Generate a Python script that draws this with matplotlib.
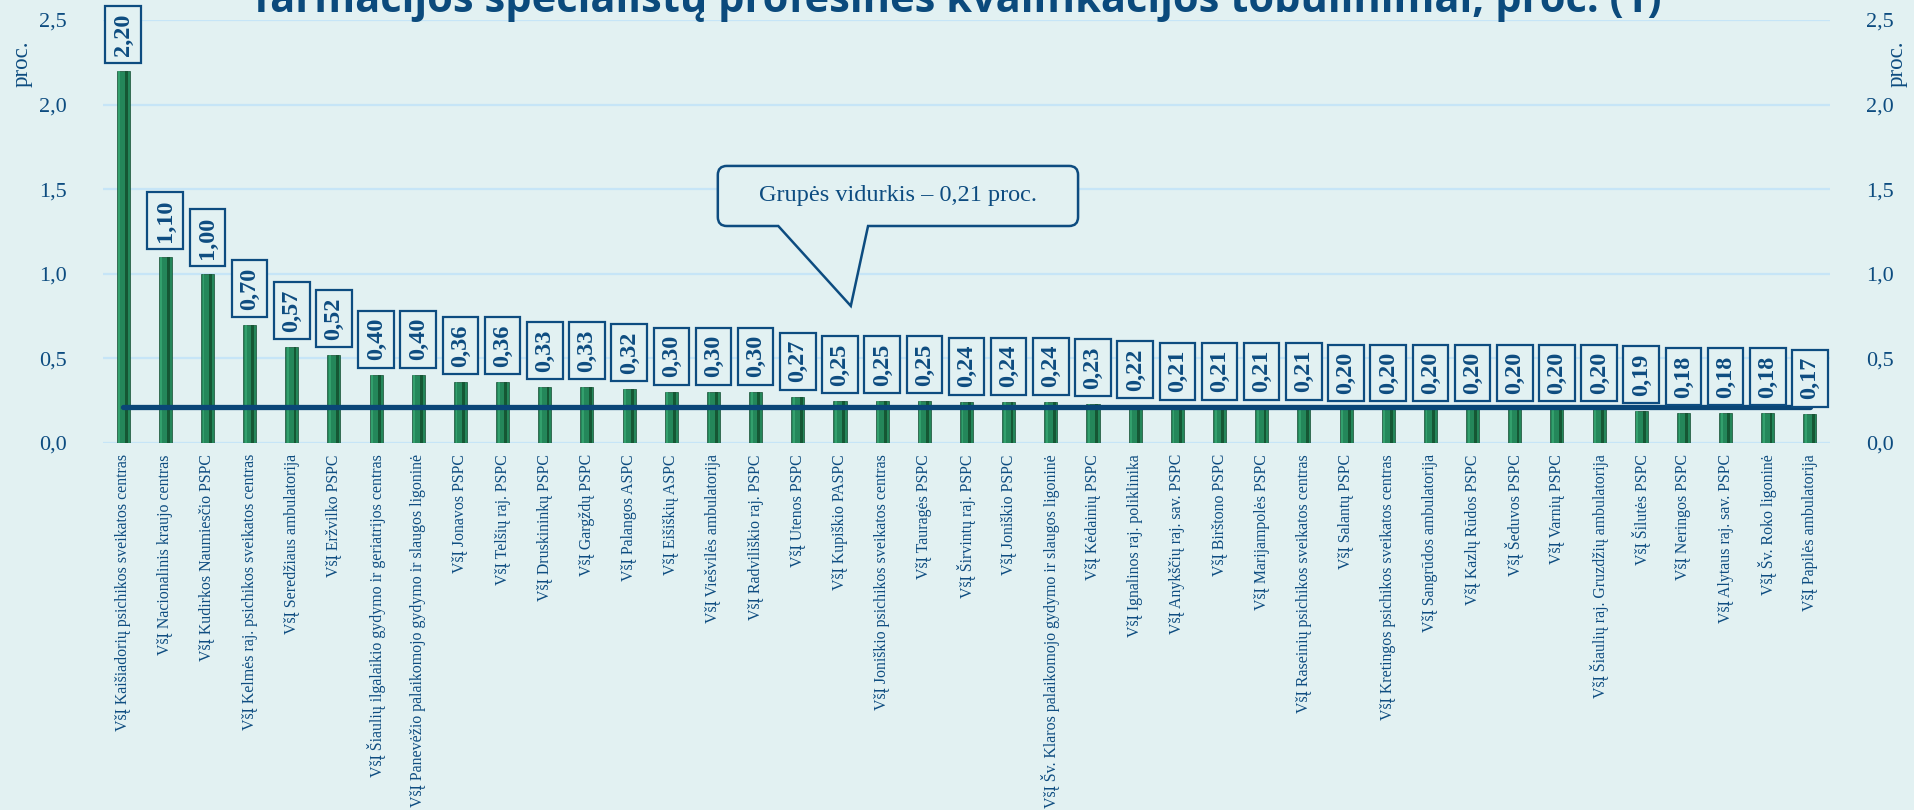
import numpy as np
import matplotlib
matplotlib.use("Agg")
import matplotlib.pyplot as plt
from matplotlib.path import Path
from matplotlib.patches import PathPatch
from matplotlib.ticker import FuncFormatter, MultipleLocator

# duomenys
istaigos = [
    "VšĮ Kaišiadorių psichikos sveikatos centras",
    "VšĮ Nacionalinis kraujo centras",
    "VšĮ Kudirkos Naumiesčio PSPC",
    "VšĮ Kelmės raj. psichikos sveikatos centras",
    "VšĮ Seredžiaus ambulatorija",
    "VšĮ Eržvilko PSPC",
    "VšĮ Šiaulių ilgalaikio gydymo ir geriatrijos centras",
    "VšĮ Panevėžio palaikomojo gydymo ir slaugos ligoninė",
    "VšĮ Jonavos PSPC",
    "VšĮ Telšių raj. PSPC",
    "VšĮ Druskininkų PSPC",
    "VšĮ Gargždų PSPC",
    "VšĮ Palangos ASPC",
    "VšĮ Eišiškių ASPC",
    "VšĮ Viešvilės ambulatorija",
    "VšĮ Radviliškio raj. PSPC",
    "VšĮ Utenos PSPC",
    "VšĮ Kupiškio PASPC",
    "VšĮ Joniškio psichikos sveikatos centras",
    "VšĮ Tauragės PSPC",
    "VšĮ Širvintų raj. PSPC",
    "VšĮ Joniškio PSPC",
    "VšĮ Šv. Klaros palaikomojo gydymo ir slaugos ligoninė",
    "VšĮ Kėdainių PSPC",
    "VšĮ Ignalinos raj. poliklinika",
    "VšĮ Anykščių raj. sav. PSPC",
    "VšĮ Birštono PSPC",
    "VšĮ Marijampolės PSPC",
    "VšĮ Raseinių psichikos sveikatos centras",
    "VšĮ Salantų PSPC",
    "VšĮ Kretingos psichikos sveikatos centras",
    "VšĮ Sangrūdos ambulatorija",
    "VšĮ Kazlų Rūdos PSPC",
    "VšĮ Šeduvos PSPC",
    "VšĮ Varnių PSPC",
    "VšĮ Šiaulių raj. Gruzdžių ambulatorija",
    "VšĮ Šilutės PSPC",
    "VšĮ Neringos PSPC",
    "VšĮ Alytaus raj. sav. PSPC",
    "VšĮ Šv. Roko ligoninė",
    "VšĮ Papilės ambulatorija",
]
reiksmes = [2.20, 1.10, 1.00, 0.70, 0.57, 0.52, 0.40, 0.40, 0.36, 0.36,
            0.33, 0.33, 0.32, 0.30, 0.30, 0.30, 0.27, 0.25, 0.25, 0.25,
            0.24, 0.24, 0.24, 0.23, 0.22, 0.21, 0.21, 0.21, 0.21, 0.20,
            0.20, 0.20, 0.20, 0.20, 0.20, 0.20, 0.19, 0.18, 0.18, 0.18,
            0.17]
vidurkis = 0.21
pavadinimas = "farmacijos specialistų profesinės kvalifikacijos tobulinimai, proc. (1)"
vidurkio_tekstas = "Grupės vidurkis – 0,21 proc."

BG = "#e2f1f2"
DARK = "#0d4c80"
GRID = "#c6e5f7"
SERIF = ["Liberation Serif", "DejaVu Serif"]

fig = plt.figure(figsize=(19.15, 8.1), dpi=100, facecolor=BG)
ax = fig.add_axes([0.0538, 0.4531, 0.9018, 0.5222])
ax.set_facecolor(BG)

x = np.arange(len(reiksmes))
w = 0.31
# stulpeliai: pagrindas + tamsi dešinė pusė + šviesus kairys kraštas
ax.bar(x, reiksmes, width=w, color="#24875a", edgecolor="#164d33", linewidth=0.5, zorder=3)
ax.bar(x + w * 0.25, reiksmes, width=w * 0.22, color="#155734", linewidth=0, zorder=3.1)
ax.bar(x - w * 0.30, reiksmes, width=w * 0.14, color="#33a06d", linewidth=0, zorder=3.1)

# grupės vidurkis
ax.plot([x[0], x[-1]], [vidurkis, vidurkis], color="#0a4677", lw=3.8,
        solid_capstyle="round", zorder=4)

for xi, v in zip(x, reiksmes):
    ax.annotate(f"{v:.2f}".replace(".", ","), (xi, v), xytext=(0, 15),
                textcoords="offset pixels", rotation=90, ha="center", va="bottom",
                fontsize=17.5, fontweight="bold", family=SERIF, color=DARK,
                bbox=dict(boxstyle="square,pad=0.3", fc=BG, ec=DARK, lw=1.6),
                zorder=5, annotation_clip=False)

ax.set_ylim(0, 2.5)
ax.set_xlim(-0.475, len(reiksmes) - 1 + 0.475)
ax.yaxis.set_major_locator(MultipleLocator(0.5))
ax.yaxis.set_major_formatter(FuncFormatter(lambda v, p: f"{v:.1f}".replace(".", ",")))
ax.grid(axis="y", color=GRID, lw=1.6, zorder=0)
ax.set_axisbelow(True)
for s in ax.spines.values():
    s.set_visible(False)

ax.set_xticks(x)
ax.set_xticklabels(istaigos, rotation=90, va="top", ha="center",
                   fontsize=11.4, family=SERIF, color=DARK)
ax.tick_params(axis="x", length=0, pad=8)
ax.tick_params(axis="y", length=0, pad=26, labelsize=16, labelcolor=DARK,
               labelleft=True, labelright=True)
for t in ax.get_yticklabels():
    t.set_family(SERIF)

fig.text(22 / 1915, 1 - 64 / 810, "proc.", rotation=90, ha="center", va="center",
         fontsize=16.5, family=SERIF, color=DARK)
fig.text(1897 / 1915, 1 - 64 / 810, "proc.", rotation=90, ha="center", va="center",
         fontsize=16.5, family=SERIF, color=DARK)

fig.text(958 / 1915, 1 - 12 / 810, pavadinimas, ha="center", va="baseline",
         fontsize=30, fontweight="bold", family=["Open Sans", "DejaVu Sans"], color="#0b4a7c")

# iškvieta su rodykle
x0, x1, y0, y1 = 0.356, 0.5646, 0.513, 0.655
rx, ry = 0.0052, 0.0213
verts = [(x0 + rx, y0), (0.391, y0), (0.433, 0.324), (0.443, y0), (x1 - rx, y0),
         (x1, y0), (x1, y0 + ry), (x1, y1 - ry), (x1, y1), (x1 - rx, y1),
         (x0 + rx, y1), (x0, y1), (x0, y1 - ry), (x0, y0 + ry), (x0, y0), (x0 + rx, y0),
         (x0 + rx, y0)]
codes = [Path.MOVETO, Path.LINETO, Path.LINETO, Path.LINETO, Path.LINETO,
         Path.CURVE3, Path.CURVE3, Path.LINETO, Path.CURVE3, Path.CURVE3,
         Path.LINETO, Path.CURVE3, Path.CURVE3, Path.LINETO, Path.CURVE3, Path.CURVE3,
         Path.CLOSEPOLY]
ax.add_patch(PathPatch(Path(verts, codes), transform=ax.transAxes, fc=BG, ec=DARK,
                       lw=1.8, zorder=6, clip_on=False))
ax.text((x0 + x1) / 2, (y0 + y1) / 2, vidurkio_tekstas, transform=ax.transAxes,
        ha="center", va="center", fontsize=17.5, family=SERIF, color=DARK, zorder=7)

fig.savefig("out.png", dpi=100, facecolor=BG)
